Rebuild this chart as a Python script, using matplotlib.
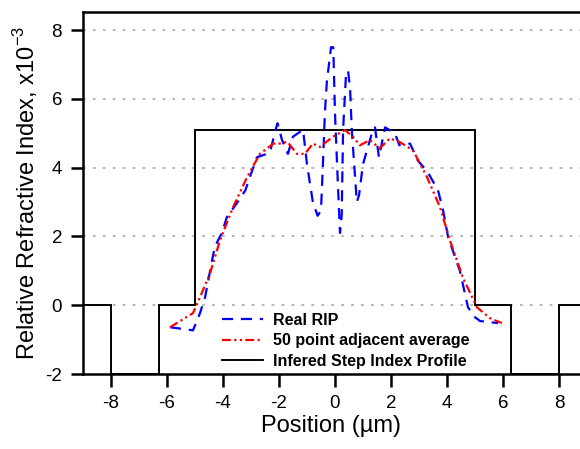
import matplotlib
matplotlib.use("Agg")
import matplotlib.pyplot as plt

plt.rcParams['font.family'] = ['Liberation Sans', 'DejaVu Sans']
plt.rcParams['mathtext.fontset'] = 'custom'
plt.rcParams['mathtext.rm'] = 'Liberation Sans'
plt.rcParams['axes.unicode_minus'] = False

# measured refractive index profile (blue dashed)
rip_x = [-5.89, -5.07, -4.82, -4.64, -4.57, -4.39, -4.29, -4.04, -3.86, -3.5, -3.2,
         -3.04, -2.79, -2.43, -2.32, -2.12, -2.05, -1.89, -1.68, -1.5, -1.14, -1.0, -0.79,
         -0.62, -0.5, -0.43, -0.36, -0.29, -0.14, -0.06, 0.0, 0.1, 0.18, 0.24, 0.29, 0.4, 0.47, 0.54, 0.6,
         0.78, 0.86, 1.0, 1.32, 1.43, 1.57, 1.79, 2.14, 2.3, 2.68, 2.96, 3.29, 3.68, 3.86,
         4.04, 4.46, 4.75, 5.0, 5.18, 5.82]
rip_y = [-0.64, -0.73, -0.23, 0.23, 0.52, 1.3, 1.7, 2.1, 2.56, 2.97, 3.34,
         3.72, 4.3, 4.4, 4.45, 5.1, 5.29, 4.8, 4.4, 4.9, 5.1, 4.1, 3.0,
         2.6, 2.75, 4.1, 5.6, 6.5, 7.5, 7.5, 5.6, 3.6, 2.1, 2.6, 5.1, 6.8, 6.8, 6.3, 5.1,
         3.0, 3.2, 4.1, 5.0, 5.17, 4.3, 5.17, 5.0, 4.65, 4.7, 4.2, 3.9, 3.34, 2.76,
         1.98, 1.0, -0.06, -0.35, -0.46, -0.52]

# 50 point adjacent average (red dash-dot)
avg_x = [-5.89, -5.07, -4.82, -4.46, -4.1, -3.64, -3.14, -2.68, -2.2, -1.96, -1.7,
         -1.36, -1.07, -0.79, -0.54, -0.07, 0.36, 0.64, 0.89, 1.25, 1.6, 1.96,
         2.3, 2.79, 3.29, 3.75, 4.1, 4.57, 5.07, 5.54, 5.96]
avg_y = [-0.64, -0.23, 0.23, 0.93, 1.9, 2.85, 3.72, 4.4, 4.7, 4.7, 4.75,
         4.4, 4.4, 4.7, 4.6, 4.9, 5.09, 4.9, 4.65, 4.8, 4.56, 4.85,
         4.75, 4.5, 3.72, 2.85, 1.9, 0.8, -0.06, -0.38, -0.52]

# inferred step index profile
step_edges = [-9, -8, -6.3, -5, 5, 6.3, 8, 9]
step_values = [0, -2, 0, 5.1, 0, -2, 0]

xticks = [-8, -6, -4, -2, 0, 2, 4, 6, 8]
yticks = [-2, 0, 2, 4, 6, 8]

fig = plt.figure(figsize=(5.8, 4.49), dpi=100)
ax = fig.add_axes([0.143, 0.167, 0.857, 0.806])

for y in yticks[1:]:
    ax.axhline(y, color='#b0b0b0', lw=1.3, ls=(0, (1.5, 4)), zorder=0)

ax.plot(rip_x, rip_y, color='#0000ff', lw=1.6, ls=(0, (5, 3.5)), label='Real RIP')
ax.plot(avg_x, avg_y, color='#ff0000', lw=1.6, ls=(0, (4, 1.5, 1, 1.5, 1, 1.5)),
        label='50 point adjacent average')
ax.stairs(step_values, step_edges, baseline=None, color='black', lw=1.4,
          label='Infered Step Index Profile')

ax.set_xlim(-9, 8.75)
ax.set_ylim(-2, 8.52)
ax.set_xticks(xticks)
ax.set_yticks(yticks)
ax.tick_params(direction='out', length=9, width=1.8, labelsize=13.5, pad=6)
for s in ['left', 'bottom', 'top']:
    ax.spines[s].set_linewidth(1.8)
ax.spines['right'].set_visible(False)

ax.set_xlabel('Position (µm)', fontsize=17, labelpad=2)
ax.set_ylabel('Relative Refractive Index, x10$^{\\mathregular{-3}}$', fontsize=17, labelpad=4)

leg = ax.legend(loc='lower left', bbox_to_anchor=(0.25, -0.025), frameon=False,
                prop={'size': 11.5, 'weight': 'bold'}, handlelength=2.6,
                labelspacing=0.35, handletextpad=0.6)

fig.savefig('out.png', dpi=100)
